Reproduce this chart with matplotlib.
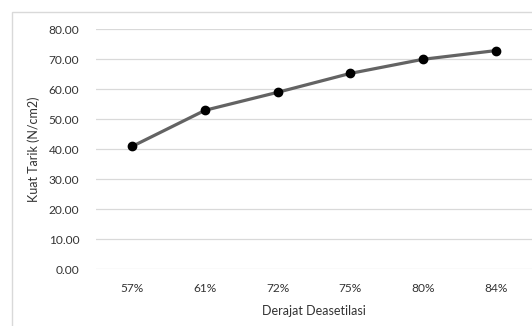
import matplotlib.pyplot as plt
from matplotlib.patches import Rectangle

# data
categories = ["57%", "61%", "72%", "75%", "80%", "84%"]
kuat_tarik = [40.9, 52.9, 58.9, 65.2, 69.9, 72.8]
yticks = [0, 10, 20, 30, 40, 50, 60, 70, 80]

plt.rcParams["font.family"] = ["Lato", "DejaVu Sans"]

fig = plt.figure(figsize=(5.32, 3.26), dpi=100)
ax = fig.add_axes([96 / 532, 1 - 269 / 326, 1 - 96 / 532, (269 - 29) / 326])

# outer chart border
fig.patches.append(Rectangle((12 / 532, -0.5), 2, 1.5 - 12 / 326,
                             transform=fig.transFigure, fill=False,
                             edgecolor="#d9d9d9", linewidth=1))

x = list(range(len(categories)))
ax.plot(x, kuat_tarik, color="#636363", linewidth=2.3, zorder=3)
ax.plot(x, kuat_tarik, "o", color="black", markersize=6, zorder=4)

ax.set_xlim(-0.5, len(categories) - 0.5)
ax.set_ylim(0, 80)
ax.set_yticks(yticks)
ax.set_yticklabels([f"{v:.2f}" for v in yticks])
ax.set_xticks(x)
ax.set_xticklabels(categories)
ax.tick_params(length=0, labelsize=8.6, colors="#333333")
ax.tick_params(axis="y", pad=12)
ax.tick_params(axis="x", pad=10)
ax.grid(axis="y", color="#d9d9d9", linewidth=0.9)
ax.set_axisbelow(True)
for s in ax.spines.values():
    s.set_visible(False)

ax.set_ylabel("Kuat Tarik (N/cm2)", fontsize=9, color="#333333", labelpad=6)
ax.set_xlabel("Derajat Deasetilasi", fontsize=9, color="#333333", labelpad=8)

fig.savefig("out.png", dpi=100)
